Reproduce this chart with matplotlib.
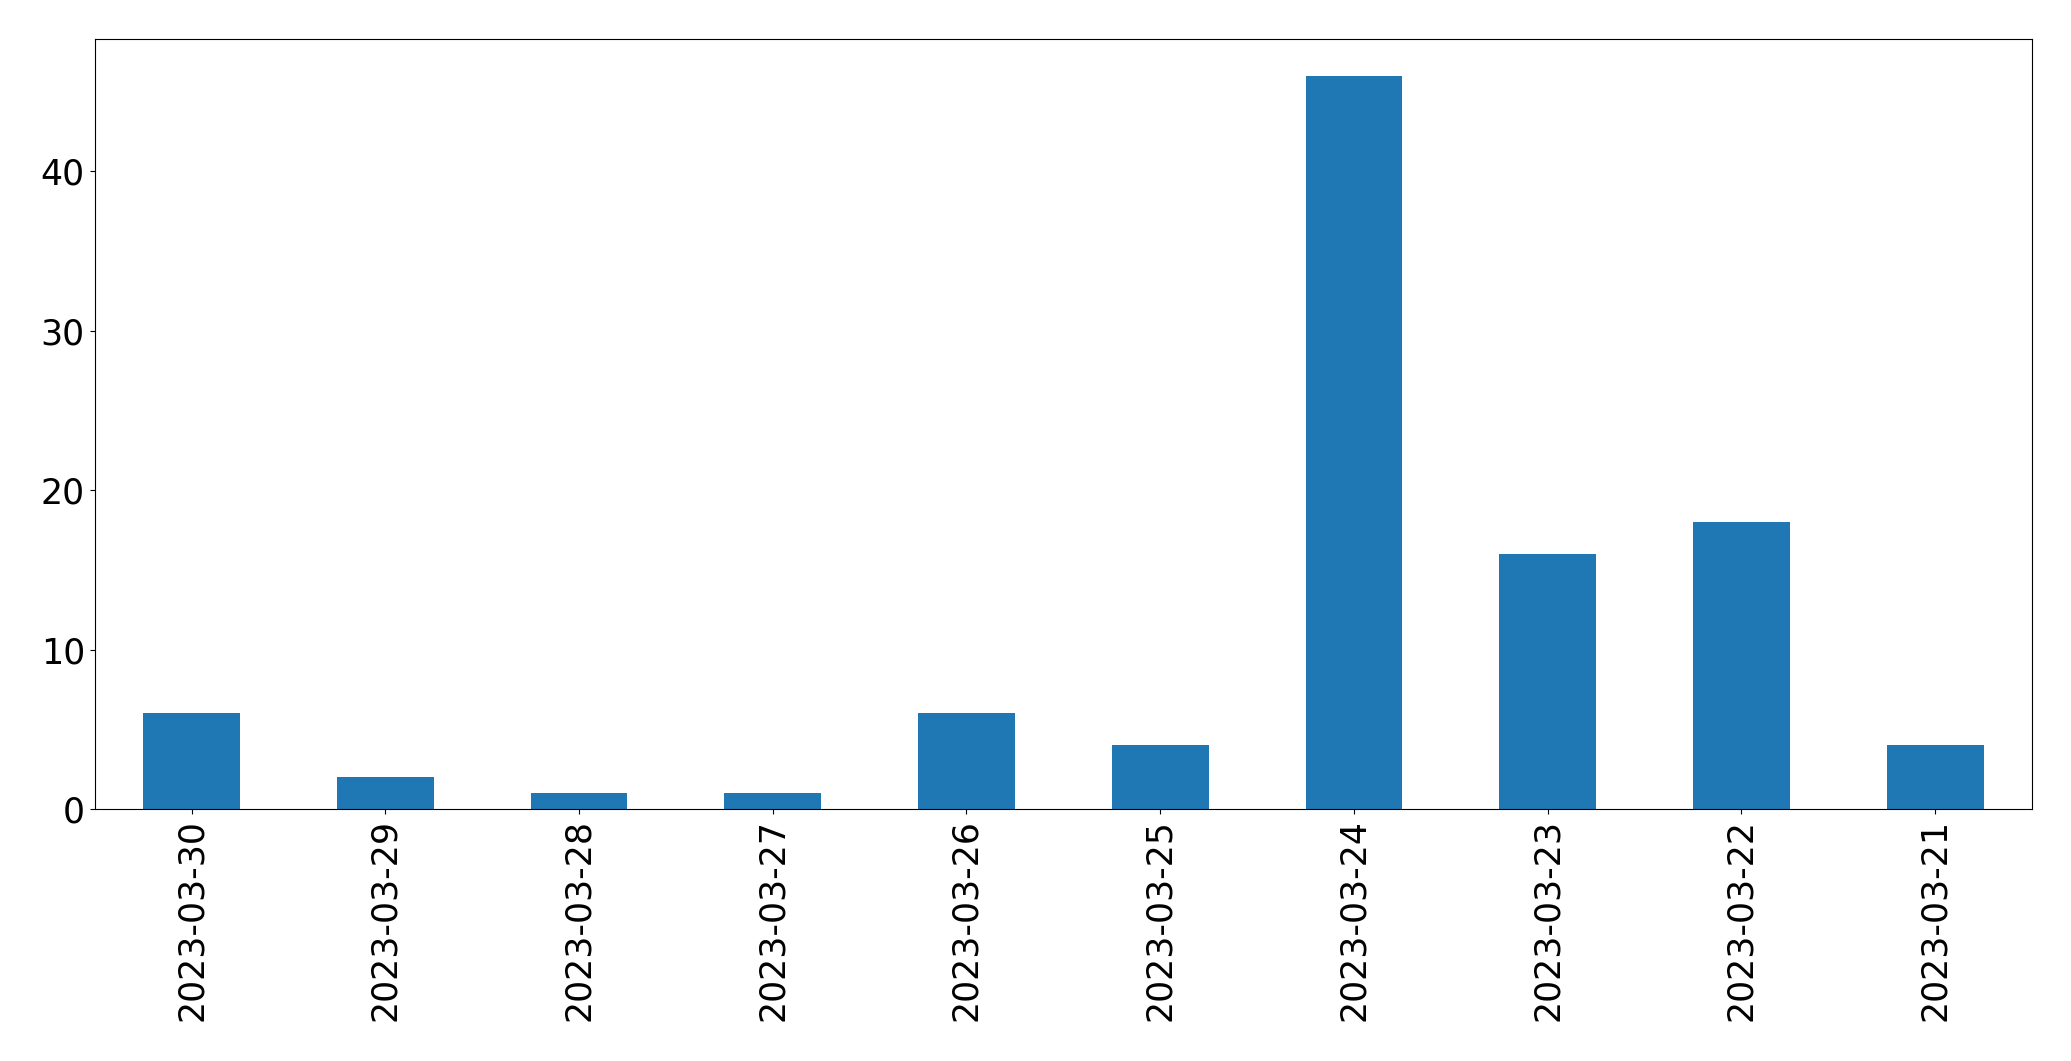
import matplotlib
matplotlib.use("Agg")
import matplotlib.pyplot as plt

dates = ["2023-03-30", "2023-03-29", "2023-03-28", "2023-03-27", "2023-03-26",
         "2023-03-25", "2023-03-24", "2023-03-23", "2023-03-22", "2023-03-21"]
counts = [6, 2, 1, 1, 6, 4, 46, 16, 18, 4]

fig = plt.figure(figsize=(20.71, 10.61), dpi=100)
ax = fig.add_axes([0.0457, 0.2375, 0.9355, 0.7257])
x = list(range(len(dates)))
ax.bar(x, counts, width=0.5, color="#1f77b4")
ax.set_xlim(-0.5, len(dates) - 0.5)
ax.set_ylim(0, max(counts) * 1.05)
ax.set_xticks(x)
ax.set_xticklabels(dates, rotation=90)
ax.set_yticks([0, 10, 20, 30, 40])
ax.tick_params(labelsize=25)
fig.savefig("out.png", dpi=100)
